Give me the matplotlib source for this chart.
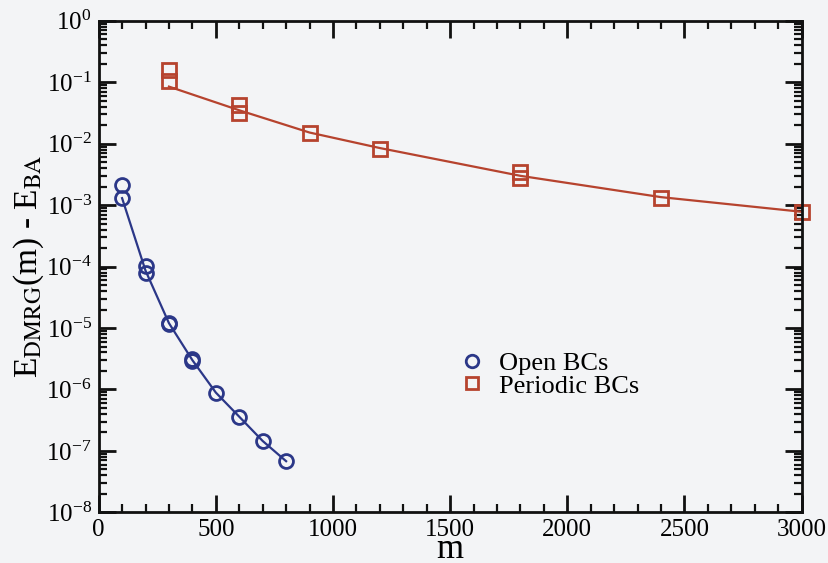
import matplotlib
matplotlib.use('Agg')
import matplotlib.pyplot as plt
from matplotlib.ticker import MultipleLocator, LogLocator, LogFormatterMathtext, NullFormatter

plt.rcParams['font.family'] = ['Liberation Serif', 'DejaVu Serif']
plt.rcParams['mathtext.fontset'] = 'stix'

# open boundary conditions
m_open = [100, 100, 200, 200, 300, 300, 400, 400, 500, 600, 700, 800]
e_open = [2.1e-3, 1.3e-3, 1.02e-4, 7.8e-5, 1.22e-5, 1.18e-5, 3.1e-6, 2.95e-6,
          8.9e-7, 3.6e-7, 1.45e-7, 6.8e-8]
m_open_fit = [100, 200, 300, 400, 500, 600, 700, 800]
e_open_fit = [1.3e-3, 8.6e-5, 1.2e-5, 3.0e-6, 8.9e-7, 3.6e-7, 1.45e-7, 6.8e-8]

# periodic boundary conditions
m_per = [300, 300, 600, 600, 900, 1200, 1800, 1800, 2400, 3000]
e_per = [0.159, 0.103, 0.042, 0.032, 0.0150, 0.0083, 3.4e-3, 2.8e-3, 1.33e-3, 7.8e-4]
m_per_fit = [300, 600, 900, 1200, 1800, 2400, 3000]
e_per_fit = [0.085, 0.035, 0.0152, 0.0085, 3.0e-3, 1.35e-3, 7.8e-4]

blue = '#2b3788'
red = '#b6432e'
bg = '#f3f4f6'

fig = plt.figure(figsize=(8.29, 5.63), dpi=100, facecolor=bg)
ax = fig.add_axes([0.119, 0.090, 0.848, 0.873], facecolor=bg)

ax.plot(m_open_fit, e_open_fit, '-', color=blue, lw=1.6)
ax.plot(m_per_fit, e_per_fit, '-', color=red, lw=1.6)
ax.plot(m_open, e_open, 'o', ms=10, mfc='none', mec=blue, mew=2.0, label='Open BCs')
ax.plot(m_per, e_per, 's', ms=9.5, mfc='none', mec=red, mew=2.0, label='Periodic BCs',
        clip_on=False)

ax.set_yscale('log')
ax.set_xlim(0, 3000)
ax.set_ylim(1e-8, 1e0)

ax.xaxis.set_major_locator(MultipleLocator(500))
ax.xaxis.set_minor_locator(MultipleLocator(100))
ax.yaxis.set_major_locator(LogLocator(base=10, numticks=20))
ax.yaxis.set_minor_locator(LogLocator(base=10, subs=range(2, 10), numticks=20))
ax.yaxis.set_major_formatter(LogFormatterMathtext())
ax.yaxis.set_minor_formatter(NullFormatter())

ax.tick_params(which='both', direction='in', top=True, right=True, color='#111111')
ax.tick_params(which='major', length=12, width=2, labelsize=18, pad=5)
ax.tick_params(which='minor', length=6, width=1.6)
for s in ax.spines.values():
    s.set_linewidth(2)
    s.set_color('#111111')

# "m" sits on a baseline just above the bottom edge
ax.set_xlabel('m', fontsize=25)
ax.xaxis.label.set_va('baseline')
ax.xaxis.set_label_coords(0.5, -0.093)
ax.set_ylabel(r'E$_{\rm DMRG}$(m) - E$_{\rm BA}$', fontsize=24, labelpad=0)

ax.legend(loc='center left', bbox_to_anchor=(0.48, 0.28), frameon=False,
          fontsize=19, handlelength=0.9, handletextpad=0.6, labelspacing=-0.05,
          numpoints=1, markerscale=0.9)

fig.savefig('out.png', dpi=100, facecolor=bg)
